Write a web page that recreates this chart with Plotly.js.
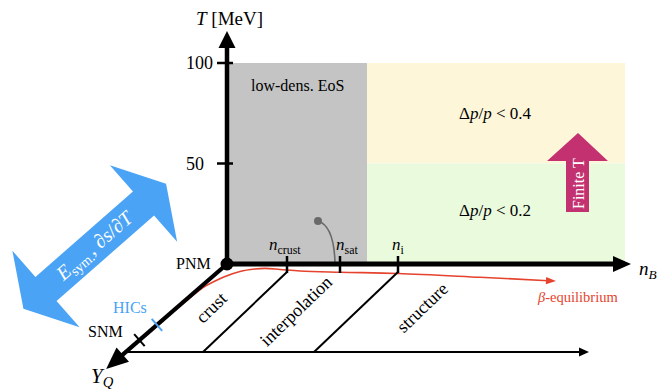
<!DOCTYPE html>
<html><head><meta charset="utf-8">
<script src="https://cdn.plot.ly/plotly-3.0.1.min.js"></script>
<style>html,body{margin:0;padding:0;background:#fff}</style>
</head><body><div id="chart" style="width:668px;height:389px"></div>
<script>
// ---------------- data ----------------
const tTicks = [50, 100];
const tTickText = ['50', '100'];
const nbTicks = [60, 113, 171];                  // diagram density units
const nbTickText = ['<i>n</i><sub>crust</sub>', '<i>n</i><sub>sat</sub>', '<i>n</i><sub>i</sub>'];
const regionNbEdges = [0, 140, 398];
const regionTEdges = [0, 50, 100];
const regionText = ['low-dens. EoS', 'Δ<i>p</i>/<i>p</i> &lt; 0.4', 'Δ<i>p</i>/<i>p</i> &lt; 0.2'];
const yqMarks = [0.5, 0.4];
const yqMarkText = ['SNM', 'HICs'];
const yqPlaneDepth = 0.578;
const zoneText = ['crust', 'interpolation', 'structure'];
const betaNb = [-82, -62, -42, -24, -12, -2, 13, 28, 38, 53, 73, 113, 171, 253, 321];
const betaT  = [-36.1, -27.4, -18.9, -11.7, -8.5, -6.2, -3.7, -2.5, -2.2, -2.7, -3.5, -4.1, -4.7, -6.6, -8.3];

// ---------------- geometry helpers ----------------
const O = [227, 264];           // origin pixel
const K = 2.01;                 // px per MeV
const D = (px, py) => [px - O[0], (O[1] - py) / K];
const P = (x, t) => [x + O[0], O[1] - t * K];
const qDir = [-0.755, 0.656];   // Y_Q axis direction (px)
const qLen = 232;               // px per unit Y_Q
const Q = q => [O[0] + q * qLen * qDir[0], O[1] + q * qLen * qDir[1]];
const path = pts => 'M' + pts.map(p => { const d = D(p[0], p[1]); return d[0].toFixed(2) + ',' + d[1].toFixed(3); }).join('L') + 'Z';
const tri = (tip, dir, len, half) => {
  const n = [-dir[1], dir[0]];
  const b = [tip[0] - dir[0] * len, tip[1] - dir[1] * len];
  return path([tip, [b[0] + n[0] * half, b[1] + n[1] * half], [b[0] - n[0] * half, b[1] - n[1] * half]]);
};
const shapes = [];
const line = (a, b, color, w, layer) => {
  const da = D(a[0], a[1]), db = D(b[0], b[1]);
  shapes.push({type: 'line', xref: 'x', yref: 'y', x0: da[0], y0: da[1], x1: db[0], y1: db[1],
    line: {color: color, width: w}, layer: layer || 'above'});
};
const fill = (p, color, layer) => shapes.push({type: 'path', xref: 'x', yref: 'y', path: p,
  fillcolor: color, line: {width: 0}, layer: layer || 'above'});

// regions
const regColors = ['#c4c4c4', '#fdf6d9', '#eafadd'];
shapes.push({type: 'rect', xref: 'x', yref: 'y', x0: regionNbEdges[0], x1: regionNbEdges[1], y0: regionTEdges[0], y1: regionTEdges[2], fillcolor: regColors[0], line: {width: 0}, layer: 'below'});
shapes.push({type: 'rect', xref: 'x', yref: 'y', x0: regionNbEdges[1], x1: regionNbEdges[2], y0: regionTEdges[1], y1: regionTEdges[2], fillcolor: regColors[1], line: {width: 0}, layer: 'below'});
shapes.push({type: 'rect', xref: 'x', yref: 'y', x0: regionNbEdges[1], x1: regionNbEdges[2], y0: regionTEdges[0], y1: regionTEdges[1], fillcolor: regColors[2], line: {width: 0}, layer: 'below'});

// blue double arrow
(function () {
  const B1 = [46, 289], B2 = [143.5, 203.5];
  const L = Math.hypot(B2[0] - B1[0], B2[1] - B1[1]);
  const u = [(B2[0] - B1[0]) / L, (B2[1] - B1[1]) / L], n = [-u[1], u[0]];
  const hb = 16, hh = 51, hl = 30;
  const add = (p, v, s) => [p[0] + v[0] * s, p[1] + v[1] * s];
  fill(path([add(B2, n, hb), add(B2, n, hh), add(B2, u, hl), add(B2, n, -hh), add(B2, n, -hb),
             add(B1, n, -hb), add(B1, n, -hh), add(B1, u, -hl), add(B1, n, hh), add(B1, n, hb)]), '#4aa3f4');
})();
// magenta arrow
fill(path([[578, 133], [608, 161], [589, 161], [589, 212], [566, 212], [566, 161], [547, 161]]), '#c33171');

// zone lines in Y_Q plane
const zoneShear = -84;
[nbTicks[0], nbTicks[2]].forEach(x => {
  const top = P(x, 0);
  line([top[0], 272], [top[0] + zoneShear, Q(yqPlaneDepth)[1]], '#000', 2);
});
// bottom line with arrow
const bl = Q(yqPlaneDepth);
line(bl, [580, bl[1]], '#000', 2);
fill(tri([589, bl[1]], [1, 0], 10, 4.5), '#000');

// gray curve (sat. point)
(function () {
  const a = D(318, 221), c = D(334, 226), b = D(335, 263);
  shapes.push({type: 'path', xref: 'x', yref: 'y', path: `M${a[0]},${a[1]} Q${c[0]},${c[1]} ${b[0]},${b[1]}`,
    line: {color: '#6a6a6a', width: 1.6}});
})();

// T axis
line(P(0, 0), [O[0], 47], '#000', 4.5);
fill(tri([O[0], 31], [0, -1], 17, 8.5), '#000');
tTicks.forEach(t => { const p = P(0, t); line([p[0] - 10, p[1]], [p[0] + 6, p[1]], '#000', 2.5); });
// nB axis
line(P(0, 0), [613, O[1]], '#000', 5);
fill(tri([631, O[1]], [1, 0], 18, 8), '#000');
nbTicks.forEach(x => { const p = P(x, 0); line([p[0], 256], [p[0], 273], '#000', 2.5); });
// Y_Q axis
line(O, Q(0.6), '#000', 4.2);
fill(tri(Q(0.69), qDir, 22, 9.5), '#000');
const qn = [qDir[1], -qDir[0]];
yqMarks.forEach((q, i) => {
  const p = Q(q);
  line([p[0] - qn[0] * 8, p[1] - qn[1] * 8], [p[0] + qn[0] * 8, p[1] + qn[1] * 8], i === 0 ? '#000' : '#4aa3f4', 2);
});
// red arrowhead
(function () {
  const a = P(betaNb[betaNb.length - 2], betaT[betaT.length - 2]), b = P(betaNb[betaNb.length - 1], betaT[betaT.length - 1]);
  const L = Math.hypot(b[0] - a[0], b[1] - a[1]);
  const u = [(b[0] - a[0]) / L, (b[1] - a[1]) / L];
  fill(tri([b[0] + u[0] * 8, b[1] + u[1] * 8], u, 10, 3.6), '#e5432d');
})();

// ---------------- annotations ----------------
const serif = 'Liberation Serif';
const ann = [];
const txt = (px, py, text, size, color, opts) => {
  const d = D(px, py);
  ann.push(Object.assign({x: d[0], y: d[1], xref: 'x', yref: 'y', text: text, showarrow: false,
    font: {family: serif, size: size, color: color || '#000'}, xanchor: 'center', yanchor: 'middle'}, opts || {}));
};
txt(229, 18, '<i>T</i> [MeV]', 19);
tTicks.forEach((t, i) => { const p = P(0, t); txt(184, p[1], tTickText[i], 18, '#000', {xanchor: 'left'}); });
const nbLabPx = [285, 347, 398];
nbTickText.forEach((s, i) => txt(nbLabPx[i], 246, s, 17));
txt(648, 270, '<i>n<sub>B</sub></i>', 19);
txt(193, 263, 'PNM', 16);
txt(105, 331, yqMarkText[0], 16);
txt(130, 307, yqMarkText[1], 16, '#4aa3f4');
txt(102, 377, '<i>Y<sub>Q</sub></i>', 21);
txt(297, 85, regionText[0], 16);
txt(495, 113, regionText[1], 17);
txt(495, 210, regionText[2], 17);
const zonePx = [[211, 308], [296, 311], [422, 308]];
zoneText.forEach((s, i) => txt(zonePx[i][0], zonePx[i][1], s, 18, '#000', {textangle: -44}));
txt(577, 297, '<i>β</i>-equilibrium', 14.5, '#e5432d');
txt(578, 184, 'Finite T', 16, '#fff', {textangle: -90});
txt(95, 246, '<i>E</i><sub>sym.</sub>, <i>∂s</i>/<i>∂T</i>', 20, '#fff', {textangle: -41});

// ---------------- traces ----------------
const traces = [
  {x: betaNb, y: betaT, mode: 'lines', line: {color: '#e5432d', width: 1.6, shape: 'spline', smoothing: 1}, hoverinfo: 'skip'},
  {x: [0], y: [0], mode: 'markers', marker: {color: '#000', size: 13}, hoverinfo: 'skip'},
  {x: [D(318, 221)[0]], y: [D(318, 221)[1]], mode: 'markers', marker: {color: '#6a6a6a', size: 8}, hoverinfo: 'skip'}
];

const layout = {
  width: 668, height: 389, margin: {l: 0, r: 0, t: 0, b: 0},
  font: {family: serif},
  paper_bgcolor: '#fff', plot_bgcolor: '#fff', showlegend: false,
  xaxis: {range: [D(0, 0)[0], D(668, 0)[0]], visible: false, fixedrange: true},
  yaxis: {range: [D(0, 389)[1], D(0, 0)[1]], visible: false, fixedrange: true},
  shapes: shapes, annotations: ann
};
Plotly.newPlot('chart', traces, layout, {displayModeBar: false, staticPlot: true});
</script></body></html>
